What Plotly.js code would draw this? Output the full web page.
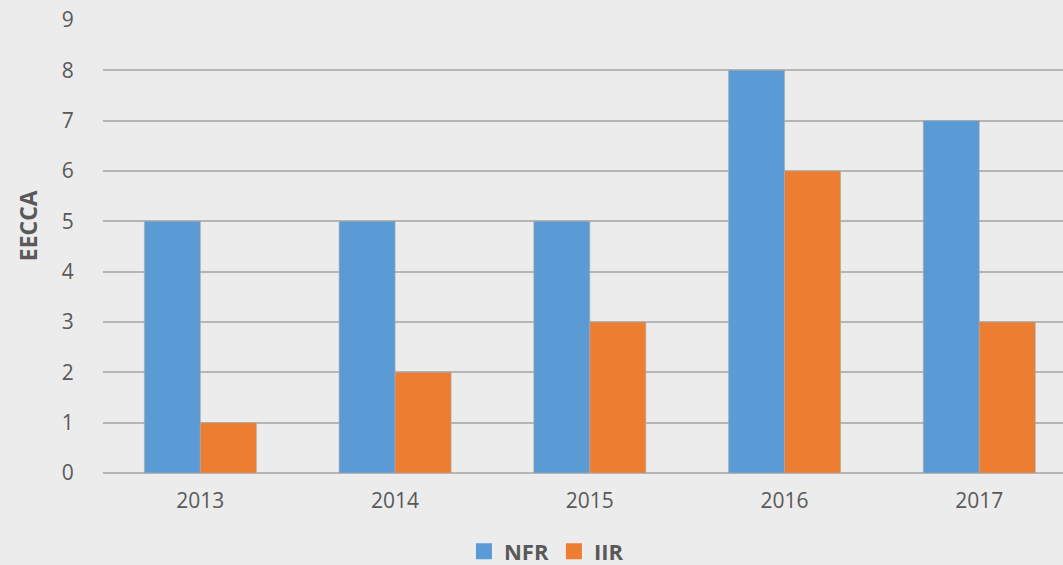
<!DOCTYPE html>
<html><head><meta charset="utf-8">
<script src="https://cdn.plot.ly/plotly-3.0.1.min.js"></script>
<style>html,body{margin:0;padding:0;background:#ececec;}</style>
</head><body>
<div id="chart" style="width:1063px;height:565px;"></div>
<script>
const years = ["2013", "2014", "2015", "2016", "2017"];
const nfr = [5, 5, 5, 8, 7];
const iir = [1, 2, 3, 6, 3];
const yTicks = [0, 1, 2, 3, 4, 5, 6, 7, 8, 9];
const seriesNames = ["NFR", "IIR"];
const seriesColors = ['#5b9bd5', '#ed7d31'];

const barLine = {color: 'rgba(170,170,170,0.6)', width: 1};
const traces = [
  {type: 'bar', name: seriesNames[0], x: years, y: nfr, showlegend: false,
   marker: {color: seriesColors[0], line: barLine}},
  {type: 'bar', name: seriesNames[1], x: years, y: iir, showlegend: false,
   marker: {color: seriesColors[1], line: barLine}},
  // legend-only entries with larger square swatches
  {type: 'scatter', mode: 'markers', name: seriesNames[0], x: [null], y: [null],
   marker: {symbol: 'square', size: 16, color: seriesColors[0]}, hoverinfo: 'skip'},
  {type: 'scatter', mode: 'markers', name: seriesNames[1], x: [null], y: [null],
   marker: {symbol: 'square', size: 16, color: seriesColors[1]}, hoverinfo: 'skip'}
];

const layout = {
  width: 1063, height: 565,
  paper_bgcolor: '#ececec', plot_bgcolor: '#ececec',
  font: {family: '"Open Sans", "Noto Sans", sans-serif', color: '#595959', size: 21},
  margin: {l: 103, r: 0, t: 19.5, b: 92.3},
  barmode: 'group', bargap: 0.425, bargroupgap: 0,
  xaxis: {type: 'category', range: [-0.5, 4.43], showgrid: false, zeroline: false, automargin: false,
          showline: false, ticks: 'outside', ticklen: 0, ticklabelstandoff: 9,
          tickfont: {size: 21, color: '#595959'}},
  yaxis: {range: [0, 9], tickvals: yTicks, showgrid: true, gridcolor: '#b5b5b5', gridwidth: 2,
          automargin: false,
          zeroline: true, zerolinecolor: '#b5b5b5', zerolinewidth: 2, showline: false,
          ticks: 'outside', ticklen: 0, ticklabelstandoff: 24,
          tickfont: {size: 21, color: '#595959'}},
  showlegend: true,
  legend: {orientation: 'h', xref: 'paper', x: 0.376, xanchor: 'left',
           yref: 'container', y: 0.024, yanchor: 'middle',
           font: {size: 22, color: '#595959', weight: 'bold'}, itemwidth: 30,
           bgcolor: 'rgba(0,0,0,0)', itemsizing: 'trace'},
  annotations: [{text: '<b>EECCA</b>', xref: 'paper', yref: 'paper', x: -0.078, y: 0.545,
                 xanchor: 'center', yanchor: 'middle', textangle: -90, showarrow: false,
                 font: {size: 23, color: '#595959'}}]
};

Plotly.newPlot('chart', traces, layout, {displayModeBar: false, staticPlot: true});
</script>
</body></html>
